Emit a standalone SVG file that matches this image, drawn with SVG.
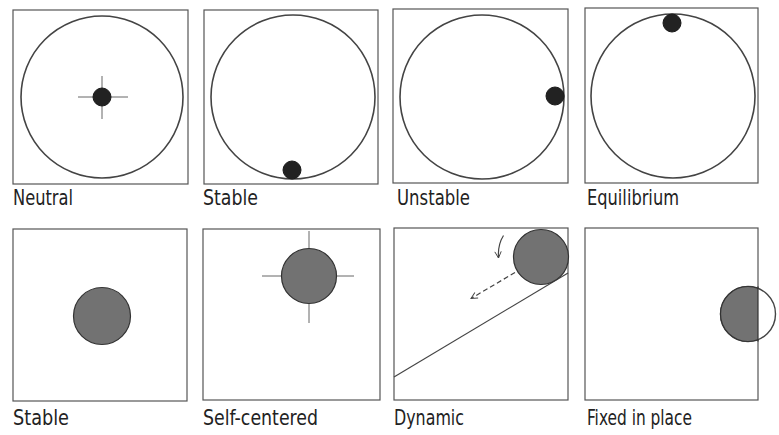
<svg xmlns="http://www.w3.org/2000/svg" width="779" height="435" viewBox="0 0 779 435">
<style>
.frame{fill:none;stroke:#555;stroke-width:1.2}
.ring{fill:none;stroke:#444;stroke-width:1.6}
.dot{fill:#222;stroke:#1a1a1a;stroke-width:1}
.disk{fill:#727272;stroke:#333;stroke-width:1.2}
.cross{stroke:#666;stroke-width:1}
.lbl{font-family:"DejaVu Sans Condensed","DejaVu Sans",sans-serif;font-size:21px;fill:#222}
.arr{fill:none;stroke:#444;stroke-width:1.2}
</style>
<defs>
<marker id="open" viewBox="0 0 10 10" refX="9" refY="5" markerWidth="8" markerHeight="8" orient="auto" markerUnits="userSpaceOnUse">
<path d="M1,1 L9,5 L1,9" fill="none" stroke="#444" stroke-width="1.2"/>
</marker>
<clipPath id="clip8"><rect x="585" y="228" width="173" height="172"/></clipPath>
</defs>
<rect width="779" height="435" fill="#fff"/>

<g id="neutral">
<rect class="frame" x="13" y="10" width="175" height="174"/>
<circle class="ring" cx="102" cy="97" r="81"/>
<line class="cross" x1="78" y1="97" x2="128" y2="97"/>
<line class="cross" x1="102" y1="76" x2="102" y2="119"/>
<circle class="dot" cx="102" cy="97" r="9"/>
<text class="lbl" x="13" y="205" textLength="60" lengthAdjust="spacingAndGlyphs">Neutral</text>
</g>

<g id="stable-top">
<rect class="frame" x="204" y="10" width="174" height="174"/>
<circle class="ring" cx="293" cy="97" r="82"/>
<circle class="dot" cx="292" cy="170" r="9"/>
<text class="lbl" x="203" y="205" textLength="55" lengthAdjust="spacingAndGlyphs">Stable</text>
</g>

<g id="unstable">
<rect class="frame" x="393" y="9" width="175" height="174"/>
<circle class="ring" cx="482" cy="97" r="82"/>
<circle class="dot" cx="555" cy="96" r="9"/>
<text class="lbl" x="397" y="205" textLength="73" lengthAdjust="spacingAndGlyphs">Unstable</text>
</g>

<g id="equilibrium">
<rect class="frame" x="585" y="8" width="173" height="175"/>
<circle class="ring" cx="673" cy="96" r="82"/>
<circle class="dot" cx="672" cy="23" r="9"/>
<text class="lbl" x="587" y="205" textLength="92" lengthAdjust="spacingAndGlyphs">Equilibrium</text>
</g>

<g id="stable-bottom">
<rect class="frame" x="13" y="229" width="174" height="172"/>
<circle class="disk" cx="102" cy="316" r="28.5"/>
<text class="lbl" x="13" y="425" textLength="56" lengthAdjust="spacingAndGlyphs">Stable</text>
</g>

<g id="self-centered">
<rect class="frame" x="203" y="229" width="177" height="171"/>
<line class="cross" x1="262" y1="276" x2="354" y2="276"/>
<line class="cross" x1="309" y1="231" x2="309" y2="323"/>
<circle class="disk" cx="309" cy="276" r="27.5"/>
<text class="lbl" x="203" y="425" textLength="115" lengthAdjust="spacingAndGlyphs">Self-centered</text>
</g>

<g id="dynamic">
<rect class="frame" x="394" y="228" width="174" height="172"/>
<line class="ring" x1="394" y1="377" x2="568" y2="273" style="stroke-width:1.2"/>
<circle class="disk" cx="541" cy="257" r="27.5"/>
<text class="lbl" x="394" y="425" textLength="70" lengthAdjust="spacingAndGlyphs">Dynamic</text>
</g>

<g id="fixed-in-place">
<rect class="frame" x="585" y="228" width="173" height="172"/>
<circle cx="748" cy="314" r="27.5" fill="#fff" stroke="#444" stroke-width="1.4"/>
<circle class="disk" cx="748" cy="314" r="27.5" clip-path="url(#clip8)"/>
<line x1="758" y1="286.5" x2="758" y2="341.5" stroke="#333" stroke-width="1.2"/>
<text class="lbl" x="587" y="425" textLength="105" lengthAdjust="spacingAndGlyphs">Fixed in place</text>
</g>

<g id="connectors">
<path class="arr" d="M503.5,235.5 Q497.5,245 498.5,258" marker-end="url(#open)"/>
<path class="arr" d="M515,272.5 L471,298.5" stroke-dasharray="5,3" marker-end="url(#open)"/>
</g>
</svg>
